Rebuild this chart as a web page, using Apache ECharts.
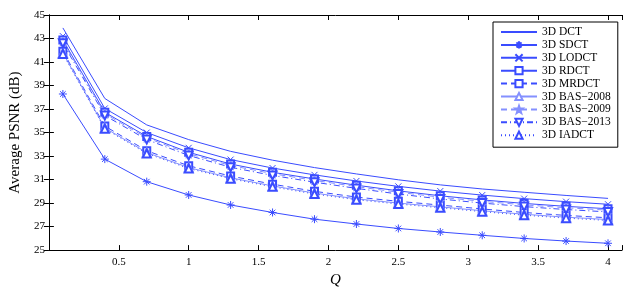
<!DOCTYPE html>
<html><head><meta charset="utf-8">
<script src="https://cdn.jsdelivr.net/npm/echarts@6/dist/echarts.min.js"></script>
<style>html,body{margin:0;padding:0;background:#fff}#c{width:632px;height:293px}</style>
</head><body><div id="c"></div>
<script>
const Q = [0.1, 0.4, 0.7, 1.0, 1.3, 1.6, 1.9, 2.2, 2.5, 2.8, 3.1, 3.4, 3.7, 4.0];
const DCT    = [43.9, 37.9, 35.65, 34.4, 33.4, 32.65, 32.02, 31.48, 30.98, 30.55, 30.2, 29.92, 29.65, 29.4];
const SDCT   = [38.28, 32.74, 30.82, 29.69, 28.84, 28.2, 27.63, 27.22, 26.84, 26.54, 26.26, 25.99, 25.77, 25.58];
const LODCT  = [43.2, 37.05, 35.0, 33.7, 32.7, 31.98, 31.4, 30.88, 30.42, 30.02, 29.68, 29.38, 29.12, 28.9];
const RDCT   = [42.87, 36.72, 34.67, 33.32, 32.32, 31.62, 31.05, 30.52, 30.04, 29.62, 29.27, 28.97, 28.72, 28.52];
const MRDCT  = [41.92, 35.55, 33.45, 32.17, 31.3, 30.61, 30.0, 29.51, 29.15, 28.83, 28.5, 28.2, 27.95, 27.75];
const BAS2008 = [41.77, 35.4, 33.3, 32.02, 31.15, 30.46, 29.85, 29.36, 29.0, 28.68, 28.35, 28.05, 27.8, 27.6];
const BAS2009 = [42.75, 36.6, 34.55, 33.2, 32.2, 31.5, 30.93, 30.4, 29.92, 29.5, 29.15, 28.85, 28.6, 28.4];
const BAS2013 = [42.6, 36.45, 34.4, 33.05, 32.05, 31.35, 30.78, 30.25, 29.77, 29.35, 29.0, 28.7, 28.45, 28.25];
const IADCT  = [41.69, 35.32, 33.22, 31.94, 31.07, 30.38, 29.77, 29.28, 28.92, 28.6, 28.27, 27.97, 27.72, 27.52];
const NAMES = ['3D DCT', '3D SDCT', '3D LODCT', '3D RDCT', '3D MRDCT', '3D BAS\u22122008', '3D BAS\u22122009', '3D BAS\u22122013', '3D IADCT'];
const Y_TICKS = [25, 27, 29, 31, 33, 35, 37, 39, 41, 43, 45];

const BLUE = '#3a4cff';
const LIGHT = '#8490ff';
const FONT = 'Liberation Serif';
const ASTER = 'path://M5,0 L5,10 M0,5 L10,5 M1.5,1.5 L8.5,8.5 M8.5,1.5 L1.5,8.5';
const XMARK = 'path://M0,0 L10,10 M10,0 L0,10';
const STAR = 'path://M5,0 L6.18,3.38 L9.76,3.45 L6.9,5.62 L7.94,9.05 L5,7 L2.06,9.05 L3.1,5.62 L0.24,3.45 L3.82,3.38 Z';

const SYMS = ['circle', ASTER, XMARK, 'emptyRect', 'emptyRect', 'emptyTriangle', STAR, 'emptyTriangle', 'emptyTriangle'];
const SIZES = [0, 8, 6, 7, 7, 8, 9, 8, 8];
const ROT = [0, 0, 0, 0, 0, 0, 0, 180, 0];
const TYPES = ['solid', 'solid', 'solid', 'solid', [6, 4], 'solid', [6, 4], [6, 3, 1, 3], [1, 3]];
const COLS = [BLUE, BLUE, BLUE, BLUE, BLUE, LIGHT, LIGHT, BLUE, BLUE];
const VALS = [DCT, SDCT, LODCT, RDCT, MRDCT, BAS2008, BAS2009, BAS2013, IADCT];

function pairs(v) { return Q.map((q, i) => [q, v[i]]); }
const series = NAMES.map((name, k) => ({
  name: name, type: 'line', data: pairs(VALS[k]),
  symbol: SYMS[k], symbolSize: SIZES[k], symbolRotate: ROT[k],
  showSymbol: k > 0,
  lineStyle: { color: COLS[k], width: 1, type: TYPES[k] },
  itemStyle: { color: COLS[k], borderColor: COLS[k], borderWidth: 1 },
  emphasis: { disabled: true }, animation: false, z: 3
}));

const chart = echarts.init(document.getElementById('c'), null, { renderer: 'canvas' });
const axisLine = { show: true, lineStyle: { color: '#000', width: 1 } };
const tick = { inside: true, length: 5, lineStyle: { color: '#000' } };
chart.setOption({
  backgroundColor: '#fff',
  animation: false,
  grid: { left: 41, right: 10, top: 15, bottom: 35, containLabel: false },
  xAxis: [{
    type: 'value', min: 0, max: 4.1, interval: 0.5,
    name: 'Q', nameLocation: 'middle', nameGap: 20,
    nameTextStyle: { fontFamily: FONT, fontSize: 15, fontStyle: 'italic', color: '#000' },
    axisLine: axisLine, splitLine: { show: false }, axisTick: tick,
    axisLabel: { fontFamily: FONT, fontSize: 11, color: '#000', margin: 7,
      formatter: v => (v > 0 && Math.abs(v * 2 - Math.round(v * 2)) < 1e-6) ? String(v) : '' }
  }, {
    type: 'value', position: 'top', min: 0, max: 4.1, interval: 0.5,
    axisLine: axisLine, splitLine: { show: false }, axisTick: tick,
    axisLabel: { show: false }
  }],
  yAxis: [{
    type: 'value', min: Y_TICKS[0], max: Y_TICKS[Y_TICKS.length - 1], interval: 2,
    name: 'Average PSNR (dB)', nameLocation: 'middle', nameGap: 22,
    nameTextStyle: { fontFamily: FONT, fontSize: 15, color: '#000' },
    axisLine: axisLine, splitLine: { show: false }, axisTick: tick,
    axisLabel: { fontFamily: FONT, fontSize: 11, color: '#000', margin: 4 }
  }, {
    type: 'value', position: 'right', min: 25, max: 45, interval: 2,
    axisLine: axisLine, splitLine: { show: false }, axisTick: tick,
    axisLabel: { show: false }
  }],
  legend: {
    orient: 'vertical', left: 493, top: 22,
    backgroundColor: '#fff', borderColor: '#000', borderWidth: 1, borderRadius: 0,
    padding: [4, 7, 6, 7], itemWidth: 36, itemHeight: 9, itemGap: 0.9,
    textStyle: { fontFamily: FONT, fontSize: 11.5, lineHeight: 12, color: '#000' },
    data: NAMES.map((n, k) => k === 0
      ? { name: n, itemStyle: { color: 'rgba(0,0,0,0)', borderColor: 'rgba(0,0,0,0)', borderWidth: 0 } }
      : { name: n }),
    selectedMode: false
  },
  series: series
});
</script></body></html>
